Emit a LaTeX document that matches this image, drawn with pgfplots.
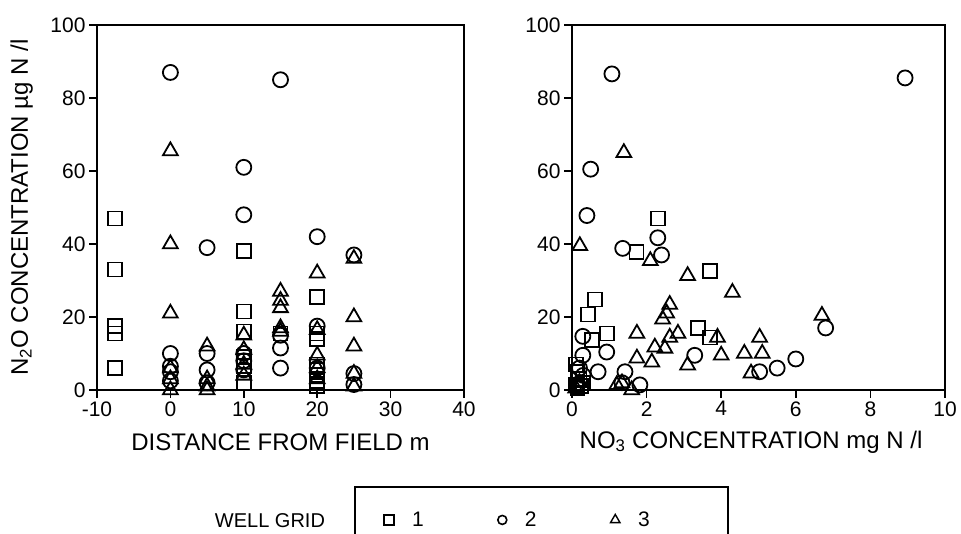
\documentclass[border=0pt]{standalone}
\usepackage{fontspec}
\setmainfont{Liberation Sans}
\usepackage{pgfplots}
\pgfplotsset{compat=1.18}

\pgfplotsset{
  wellaxis/.style={
    scale only axis, height=365pt, ymin=0, ymax=100, ytick={0,20,...,100},
    axis line style={line width=2.2pt}, tick style={line width=1.6pt,black},
    tick align=outside, major tick length=8pt, xtick pos=bottom, ytick pos=left,
    tick label style={font=\fontsize{21}{25}\selectfont},
    label style={font=\fontsize{24}{28}\selectfont},
    /pgf/number format/assume math mode=true,
    clip=false, anchor=south west},
  g1/.style={only marks, mark=square, mark size=7pt, line width=1.8pt, black},
  g2/.style={only marks, mark=o, mark size=7.5pt, line width=1.8pt, black},
  g3/.style={only marks, mark=triangle, mark size=8.5pt, line width=1.8pt, black},
}

\begin{document}
\begin{tikzpicture}[x=1pt,y=1pt]
\path[use as bounding box] (0,0) rectangle (961,534);

% left panel: distance from field
\begin{axis}[wellaxis, at={(97pt,144pt)}, width=367pt,
  xmin=-10, xmax=40, xtick={-10,0,...,40},
  xlabel={DISTANCE FROM FIELD m},
  xlabel style={at={(rel axis cs:0.5,-0.142)}, anchor=center},
  ylabel={N\textsubscript{2}O CONCENTRATION µg N /l},
  ylabel style={at={(rel axis cs:-0.205,0.5)}, anchor=center}]
\addplot[g1] coordinates {(-7.5,47)(-7.5,33)(-7.5,17.5)(-7.5,15.5)(-7.5,6)
  (10,38)(10,21.5)(10,16)(10,9)(10,6.5)(10,2)(15,15.5)
  (20,25.5)(20,15.5)(20,14)(20,7)(20,5.5)(20,4)(20,2.5)(20,1)};
\addplot[g2] coordinates {(0,87)(0,10)(0,6.5)(0,5)(0,2.5)(5,39)(5,10)(5,5.5)(5,2)
  (10,61)(10,48)(10,10)(10,8)(10,5.5)(15,85)(15,15)(15,11.5)(15,6)
  (20,42)(20,17.5)(20,6)(25,37)(25,4.5)(25,1.5)};
\addplot[g3] coordinates {(0,65.5)(0,40)(0,21)(0,6)(0,3)(0,0)(5,12)(5,3)(5,1)(5,0)
  (10,15)(10,11)(10,7)(10,4)(15,27)(15,24.5)(15,22.5)(15,17)(15,16)
  (20,32)(20,16.5)(20,9.5)(20,6)(20,3)(25,36)(25,20)(25,12)(25,4.5)(25,1)};
\end{axis}

% right panel: nitrate concentration
\begin{axis}[wellaxis, at={(572pt,144pt)}, width=373pt,
  xmin=0, xmax=10, xtick={0,2,...,10},
  xlabel={NO\textsubscript{3} CONCENTRATION mg N /l},
  xlabel style={at={(rel axis cs:0.48,-0.142)}, anchor=center},
  legend columns=3,
  legend style={at={(-0.145,-0.356)}, anchor=center, draw=none, fill=none,
    font=\fontsize{21}{25}\selectfont,
    /tikz/every odd column/.append style={column sep=16pt},
    /tikz/every even column/.append style={column sep=72pt}}]
\addplot[g1, forget plot] coordinates {(2.3,47)(1.73,37.8)(3.7,32.7)(0.62,24.8)(0.43,20.7)
  (3.37,16.9)(0.93,15.5)(3.7,14.4)(0.53,13.6)
  (0.1,7)(0.15,5)(0.2,3)(0.1,1.5)(0.25,1)(0.15,0.5)(0.3,2)};
\addplot[g2, forget plot] coordinates {(1.07,86.6)(8.93,85.5)(0.5,60.5)(0.4,47.8)(2.3,41.7)
  (1.36,38.8)(2.4,37)(6.8,17)(0.29,14.7)(0.93,10.4)(0.29,9.5)(3.29,9.5)
  (6.0,8.5)(5.5,6)(5.03,5)(0.7,5)(1.42,5)(1.82,1.4)(1.34,2)(0.3,4)(0.15,1.5)(0.2,6)};
\addplot[g3, forget plot] coordinates {(1.39,65)(0.21,39.5)(2.1,35.4)(3.1,31.3)(4.3,26.7)
  (2.62,23.4)(2.54,21)(2.43,19.4)(6.7,20.4)(1.74,15.5)(2.84,15.5)(3.9,14.4)
  (5.03,14.4)(2.62,14.4)(2.22,11.7)(2.49,11.4)(4.0,9.5)(4.62,10)(5.1,10)
  (1.74,8.7)(2.14,7.6)(3.1,6.8)(4.8,4.6)(1.2,1.4)(1.34,1.9)(1.6,0)(0.2,2)(0.1,0.5)};
\addlegendimage{only marks, mark=square, mark size=5pt, line width=2.4pt, black}
\addlegendentry{1}
\addlegendimage{only marks, mark=o, mark size=4.5pt, line width=1.6pt, black}
\addlegendentry{2}
\addlegendimage{only marks, mark=triangle, mark size=5.5pt, line width=1.4pt, black}
\addlegendentry{3}
\end{axis}

\node[font=\fontsize{20}{24}\selectfont] at (270,13) {WELL GRID};
\draw[line width=1.6pt] (355,0) -- (355,47) -- (728,47) -- (728,0);
\end{tikzpicture}
\end{document}
